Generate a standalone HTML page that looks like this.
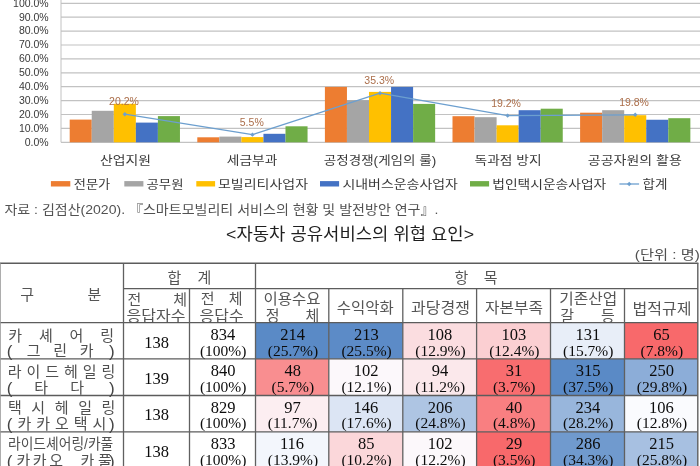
<!DOCTYPE html>
<html lang="ko"><head><meta charset="utf-8"><title>chart and table</title>
<style>
html,body{margin:0;padding:0;background:#fff}
#page{position:relative;width:700px;height:466px;overflow:hidden;background:#fff;font-family:"Liberation Sans",sans-serif}
#inner{position:absolute;left:0;top:0;width:700px;height:480px;filter:blur(0.65px)}
#page svg{position:absolute;left:0;top:0;overflow:visible}
#ktext text{font-family:"Liberation Sans","Noto Sans CJK KR",sans-serif}
#ktext .num{font-family:"Liberation Serif","Noto Serif CJK SC",serif;font-size:16.5px;fill:#0c0c0c}
#ktext .pct{font-family:"Liberation Serif","Noto Serif CJK SC",serif;font-size:15.5px;fill:#0c0c0c}
#ktext .ax{font-size:10.5px;fill:#3a3a3a;text-anchor:end}
#ktext .dl{font-size:10.5px;fill:#AB6E4A}
#ktext .cat{font-size:12.5px;fill:#3a3a3a}
#ktext .lg{font-size:12px;fill:#3a3a3a}
#ktext .th{font-size:15px;fill:#555555}
#ktext .rl{font-size:15px;fill:#505050}
#ktext .par{font-size:17px;fill:#444}
</style></head><body>
<div id="page"><div id="inner">
<svg width="700" height="480" viewBox="0 0 700 480">
<g id="gfx"><line x1="61.0" y1="142.30" x2="700.0" y2="142.30" stroke="#c2c2c2" stroke-width="1.2"/>
<line x1="61.0" y1="128.40" x2="700.0" y2="128.40" stroke="#c2c2c2" stroke-width="1.2"/>
<line x1="61.0" y1="114.50" x2="700.0" y2="114.50" stroke="#c2c2c2" stroke-width="1.2"/>
<line x1="61.0" y1="100.60" x2="700.0" y2="100.60" stroke="#c2c2c2" stroke-width="1.2"/>
<line x1="61.0" y1="86.70" x2="700.0" y2="86.70" stroke="#c2c2c2" stroke-width="1.2"/>
<line x1="61.0" y1="72.80" x2="700.0" y2="72.80" stroke="#c2c2c2" stroke-width="1.2"/>
<line x1="61.0" y1="58.90" x2="700.0" y2="58.90" stroke="#c2c2c2" stroke-width="1.2"/>
<line x1="61.0" y1="45.00" x2="700.0" y2="45.00" stroke="#c2c2c2" stroke-width="1.2"/>
<line x1="61.0" y1="31.10" x2="700.0" y2="31.10" stroke="#c2c2c2" stroke-width="1.2"/>
<line x1="61.0" y1="17.20" x2="700.0" y2="17.20" stroke="#c2c2c2" stroke-width="1.2"/>
<line x1="61.0" y1="3.30" x2="700.0" y2="3.30" stroke="#c2c2c2" stroke-width="1.2"/>
<line x1="61.0" y1="0" x2="61.0" y2="142.30" stroke="#c2c2c2" stroke-width="1"/>
<rect x="69.70" y="119.60" width="22.05" height="22.70" fill="#ED7D31"/>
<rect x="91.75" y="110.80" width="22.05" height="31.50" fill="#A5A5A5"/>
<rect x="113.80" y="103.80" width="22.05" height="38.50" fill="#FFC000"/>
<rect x="135.85" y="122.60" width="22.05" height="19.70" fill="#4472C4"/>
<rect x="157.90" y="116.10" width="22.05" height="26.20" fill="#70AD47"/>
<rect x="197.30" y="137.30" width="22.05" height="5.00" fill="#ED7D31"/>
<rect x="219.35" y="136.60" width="22.05" height="5.70" fill="#A5A5A5"/>
<rect x="241.40" y="137.10" width="22.05" height="5.20" fill="#FFC000"/>
<rect x="263.45" y="133.80" width="22.05" height="8.50" fill="#4472C4"/>
<rect x="285.50" y="126.30" width="22.05" height="16.00" fill="#70AD47"/>
<rect x="324.90" y="86.90" width="22.05" height="55.40" fill="#ED7D31"/>
<rect x="346.95" y="100.20" width="22.05" height="42.10" fill="#A5A5A5"/>
<rect x="369.00" y="91.90" width="22.05" height="50.40" fill="#FFC000"/>
<rect x="391.05" y="86.90" width="22.05" height="55.40" fill="#4472C4"/>
<rect x="413.10" y="103.90" width="22.05" height="38.40" fill="#70AD47"/>
<rect x="452.50" y="116.20" width="22.05" height="26.10" fill="#ED7D31"/>
<rect x="474.55" y="117.20" width="22.05" height="25.10" fill="#A5A5A5"/>
<rect x="496.60" y="125.30" width="22.05" height="17.00" fill="#FFC000"/>
<rect x="518.65" y="110.20" width="22.05" height="32.10" fill="#4472C4"/>
<rect x="540.70" y="108.70" width="22.05" height="33.60" fill="#70AD47"/>
<rect x="580.10" y="112.70" width="22.05" height="29.60" fill="#ED7D31"/>
<rect x="602.15" y="110.20" width="22.05" height="32.10" fill="#A5A5A5"/>
<rect x="624.20" y="115.20" width="22.05" height="27.10" fill="#FFC000"/>
<rect x="646.25" y="119.75" width="22.05" height="22.55" fill="#4472C4"/>
<rect x="668.30" y="118.20" width="22.05" height="24.10" fill="#70AD47"/>
<polyline fill="none" stroke="#6C9FCF" stroke-width="1.3" stroke-linejoin="round" points="124.83,114.22 252.43,134.66 380.02,93.23 507.62,115.61 635.23,114.78"/>
<path d="M124.83 112.02l2.2 2.2l-2.2 2.2l-2.2 -2.2z" fill="#6C9FCF"/>
<path d="M252.43 132.46l2.2 2.2l-2.2 2.2l-2.2 -2.2z" fill="#6C9FCF"/>
<path d="M380.02 91.03l2.2 2.2l-2.2 2.2l-2.2 -2.2z" fill="#6C9FCF"/>
<path d="M507.62 113.41l2.2 2.2l-2.2 2.2l-2.2 -2.2z" fill="#6C9FCF"/>
<path d="M635.23 112.58l2.2 2.2l-2.2 2.2l-2.2 -2.2z" fill="#6C9FCF"/>
<rect x="50.90" y="181.10" width="19.40" height="5.4" fill="#ED7D31"/>
<rect x="124.30" y="181.10" width="19.10" height="5.4" fill="#A5A5A5"/>
<rect x="196.30" y="181.10" width="18.80" height="5.4" fill="#FFC000"/>
<rect x="320.00" y="181.10" width="19.10" height="5.4" fill="#4472C4"/>
<rect x="470.00" y="181.10" width="19.10" height="5.4" fill="#70AD47"/>
<line x1="619.4" y1="184.00" x2="639.1" y2="184.00" stroke="#6C9FCF" stroke-width="1.3"/>
<path d="M629.2 181.80l2.2 2.2l-2.2 2.2l-2.2 -2.2z" fill="#6C9FCF"/>
<rect x="255.50" y="322.70" width="73.30" height="36.20" fill="#5A8AC6"/>
<rect x="328.80" y="322.70" width="74.00" height="36.20" fill="#5C8BC7"/>
<rect x="402.80" y="322.70" width="73.80" height="36.20" fill="#FBDDE0"/>
<rect x="476.60" y="322.70" width="73.90" height="36.20" fill="#FBCFD2"/>
<rect x="550.50" y="322.70" width="74.00" height="36.20" fill="#E8EEF8"/>
<rect x="624.50" y="322.70" width="73.30" height="36.20" fill="#F8696B"/>
<rect x="255.50" y="358.90" width="73.30" height="36.60" fill="#F98E90"/>
<rect x="328.80" y="358.90" width="74.00" height="36.60" fill="#FCF8FB"/>
<rect x="402.80" y="358.90" width="73.80" height="36.60" fill="#FBE8EB"/>
<rect x="476.60" y="358.90" width="73.90" height="36.60" fill="#F86D6F"/>
<rect x="550.50" y="358.90" width="74.00" height="36.60" fill="#5A8AC6"/>
<rect x="624.50" y="358.90" width="73.30" height="36.60" fill="#8CADD8"/>
<rect x="255.50" y="395.50" width="73.30" height="36.35" fill="#FCEEF1"/>
<rect x="328.80" y="395.50" width="74.00" height="36.35" fill="#DCE5F4"/>
<rect x="402.80" y="395.50" width="73.80" height="36.35" fill="#AEC5E3"/>
<rect x="476.60" y="395.50" width="73.90" height="36.35" fill="#F97F81"/>
<rect x="550.50" y="395.50" width="74.00" height="36.35" fill="#98B6DC"/>
<rect x="624.50" y="395.50" width="73.30" height="36.35" fill="#FAFBFE"/>
<rect x="255.50" y="431.85" width="73.30" height="36.55" fill="#F3F6FC"/>
<rect x="328.80" y="431.85" width="74.00" height="36.55" fill="#FBD7DA"/>
<rect x="402.80" y="431.85" width="73.80" height="36.55" fill="#FCF8FB"/>
<rect x="476.60" y="431.85" width="73.90" height="36.55" fill="#F8696B"/>
<rect x="550.50" y="431.85" width="74.00" height="36.55" fill="#709ACE"/>
<rect x="624.50" y="431.85" width="73.30" height="36.55" fill="#A7C0E1"/>
<line x1="-6.00" y1="263.20" x2="698.40" y2="263.20" stroke="#5c5c5c" stroke-width="1.40"/>
<line x1="123.50" y1="288.70" x2="697.80" y2="288.70" stroke="#5c5c5c" stroke-width="1.30"/>
<line x1="-6.00" y1="322.70" x2="697.80" y2="322.70" stroke="#5c5c5c" stroke-width="1.30"/>
<line x1="-6.00" y1="358.90" x2="697.80" y2="358.90" stroke="#5c5c5c" stroke-width="1.30"/>
<line x1="-6.00" y1="395.50" x2="697.80" y2="395.50" stroke="#5c5c5c" stroke-width="1.30"/>
<line x1="-6.00" y1="431.85" x2="697.80" y2="431.85" stroke="#5c5c5c" stroke-width="1.30"/>
<line x1="-6.00" y1="468.40" x2="697.80" y2="468.40" stroke="#5c5c5c" stroke-width="1.30"/>
<line x1="0.3" y1="263.20" x2="0.3" y2="480" stroke="#999" stroke-width="1"/>
<line x1="123.50" y1="263.20" x2="123.50" y2="480.00" stroke="#606060" stroke-width="1.30"/>
<line x1="255.50" y1="263.20" x2="255.50" y2="480.00" stroke="#606060" stroke-width="1.30"/>
<line x1="697.80" y1="263.20" x2="697.80" y2="480.00" stroke="#606060" stroke-width="1.40"/>
<line x1="189.50" y1="288.70" x2="189.50" y2="480.00" stroke="#606060" stroke-width="1.30"/>
<line x1="328.80" y1="288.70" x2="328.80" y2="480.00" stroke="#606060" stroke-width="1.30"/>
<line x1="402.80" y1="288.70" x2="402.80" y2="480.00" stroke="#606060" stroke-width="1.30"/>
<line x1="476.60" y1="288.70" x2="476.60" y2="480.00" stroke="#606060" stroke-width="1.30"/>
<line x1="550.50" y1="288.70" x2="550.50" y2="480.00" stroke="#606060" stroke-width="1.30"/>
<line x1="624.50" y1="288.70" x2="624.50" y2="480.00" stroke="#606060" stroke-width="1.30"/></g>
<g id="ktext">
<text class="ax" x="48.7" y="145.64">0.0%</text>
<text class="ax" x="48.7" y="131.74">10.0%</text>
<text class="ax" x="48.7" y="117.84">20.0%</text>
<text class="ax" x="48.7" y="103.94">30.0%</text>
<text class="ax" x="48.7" y="90.04">40.0%</text>
<text class="ax" x="48.7" y="76.14">50.0%</text>
<text class="ax" x="48.7" y="62.24">60.0%</text>
<text class="ax" x="48.7" y="48.34">70.0%</text>
<text class="ax" x="48.7" y="34.44">80.0%</text>
<text class="ax" x="48.7" y="20.54">90.0%</text>
<text class="ax" x="48.7" y="6.64">100.0%</text>
<text class="dl" x="109.07" y="104.74">20.2%</text>
<text class="dl" x="239.79" y="125.74">5.5%</text>
<text class="dl" x="364.34" y="84.04">35.3%</text>
<text class="dl" x="491.13" y="107.34">19.2%</text>
<text class="dl" x="619.13" y="106.14">19.8%</text>
<text class="cat" x="99.91" y="165.06" textLength="51" lengthAdjust="spacingAndGlyphs">산업지원</text>
<text class="cat" x="226.78" y="165.06" textLength="50.5" lengthAdjust="spacingAndGlyphs">세금부과</text>
<text class="cat" x="323.78" y="165.06" textLength="112.5" lengthAdjust="spacingAndGlyphs">공정경쟁(게임의 룰)</text>
<text class="cat" x="474.59" y="165.06" textLength="67" lengthAdjust="spacingAndGlyphs">독과점 방지</text>
<text class="cat" x="587.88" y="165.06" textLength="94" lengthAdjust="spacingAndGlyphs">공공자원의 활용</text>
<text class="lg" x="73.73" y="188.56" textLength="36.5" lengthAdjust="spacingAndGlyphs">전문가</text>
<text class="lg" x="146.51" y="188.56" textLength="37" lengthAdjust="spacingAndGlyphs">공무원</text>
<text class="lg" x="218.02" y="188.56" textLength="90" lengthAdjust="spacingAndGlyphs">모빌리티사업자</text>
<text class="lg" x="342.42" y="188.56" textLength="115.5" lengthAdjust="spacingAndGlyphs">시내버스운송사업자</text>
<text class="lg" x="492.29" y="188.56" textLength="114" lengthAdjust="spacingAndGlyphs">법인택시운송사업자</text>
<text class="lg" x="642.61" y="188.56" textLength="25" lengthAdjust="spacingAndGlyphs">합계</text>
<text x="4.42" y="213.59" font-size="13" fill="#525252" textLength="434" lengthAdjust="spacingAndGlyphs">자료 : 김점산(2020). 『스마트모빌리티 서비스의 현황 및 발전방안 연구』.</text>
<text x="226.07" y="239.96" font-size="16.5" fill="#1f1f1f" textLength="248" lengthAdjust="spacingAndGlyphs">&lt;자동차 공유서비스의 위협 요인&gt;</text>
<text x="634.84" y="259.49" font-size="13" fill="#505050" textLength="65" lengthAdjust="spacingAndGlyphs">(단위 : 명)</text>
<text class="th" x="20.22" y="300.20">구</text>
<text class="th" x="87.51" y="300.30">분</text>
<text class="th" x="167.52" y="282.80">합</text>
<text class="th" x="197.45" y="282.80">계</text>
<text class="th" x="127.39" y="304.50">전</text>
<text class="th" x="173.27" y="304.50">체</text>
<text class="th" x="126.49" y="321.00" textLength="59" lengthAdjust="spacingAndGlyphs">응답자수</text>
<text class="th" x="200.68" y="304.40">전</text>
<text class="th" x="228.77" y="304.40">체</text>
<text class="th" x="199.59" y="320.90" textLength="44" lengthAdjust="spacingAndGlyphs">응답수</text>
<text class="th" x="263.53" y="304.40" textLength="57" lengthAdjust="spacingAndGlyphs">이용수요</text>
<text class="th" x="265.64" y="321.00">정</text>
<text class="th" x="305.56" y="321.00">체</text>
<text class="th" x="454.61" y="282.90">항</text>
<text class="th" x="483.68" y="282.80">목</text>
<text class="th" x="336.86" y="313.40" textLength="57" lengthAdjust="spacingAndGlyphs">수익악화</text>
<text class="th" x="411.06" y="313.40" textLength="59" lengthAdjust="spacingAndGlyphs">과당경쟁</text>
<text class="th" x="485.06" y="313.40" textLength="58" lengthAdjust="spacingAndGlyphs">자본부족</text>
<text class="th" x="559.30" y="303.90" textLength="58" lengthAdjust="spacingAndGlyphs">기존산업</text>
<text class="th" x="560.26" y="320.90">갈</text>
<text class="th" x="600.98" y="320.90">등</text>
<text class="th" x="632.60" y="313.70" textLength="59" lengthAdjust="spacingAndGlyphs">법적규제</text>
<text class="rl" x="8.30" y="340.80">카</text>
<text class="rl" x="38.94" y="340.80">셰</text>
<text class="rl" x="69.59" y="340.80">어</text>
<text class="rl" x="100.24" y="340.80">링</text>
<text class="par" x="6.65" y="357.39">(</text>
<text class="rl" x="26.74" y="356.30">그</text>
<text class="rl" x="53.28" y="356.30">린</text>
<text class="rl" x="79.82" y="356.30">카</text>
<text class="par" x="108.88" y="357.39">)</text>
<text class="rl" x="7.77" y="377.00" textLength="107.6" lengthAdjust="spacing">라이드헤일링</text>
<text class="par" x="6.65" y="393.69">(</text>
<text class="rl" x="34.13" y="392.60">타</text>
<text class="rl" x="70.34" y="392.60">다</text>
<text class="par" x="108.88" y="393.69">)</text>
<text class="rl" x="7.95" y="413.30" textLength="107.4" lengthAdjust="spacing">택시헤일링</text>
<text class="par" x="6.65" y="429.99">(</text>
<text class="rl" x="17.50" y="428.90" textLength="88.8" lengthAdjust="spacing">카카오택시</text>
<text class="par" x="108.88" y="429.99">)</text>
<text class="rl" x="7.98" y="449.40" textLength="105.3" lengthAdjust="spacingAndGlyphs">라이드셰어링/카풀</text>
<text class="par" x="6.65" y="466.79">(</text>
<text class="rl" x="16.50" y="465.70" textLength="46.5" lengthAdjust="spacing">카카오</text>
<text class="rl" x="80.60" y="465.70" textLength="31.2" lengthAdjust="spacing">카풀</text>
<text class="par" x="108.88" y="466.79">)</text>
<text class="num" x="144.17" y="347.60">138</text>
<text class="num" x="210.58" y="339.90">834</text>
<text class="pct" x="199.96" y="355.50">(100%)</text>
<text class="num" x="280.18" y="339.90">214</text>
<text class="pct" x="267.73" y="355.50">(25.7%)</text>
<text class="num" x="354.02" y="339.90">213</text>
<text class="pct" x="341.38" y="355.50">(25.5%)</text>
<text class="num" x="427.57" y="339.90">108</text>
<text class="pct" x="415.28" y="355.50">(12.9%)</text>
<text class="num" x="501.42" y="339.90">103</text>
<text class="pct" x="489.13" y="355.50">(12.4%)</text>
<text class="num" x="575.54" y="339.90">131</text>
<text class="pct" x="563.08" y="355.50">(15.7%)</text>
<text class="num" x="653.29" y="339.90">65</text>
<text class="pct" x="640.49" y="355.50">(7.8%)</text>
<text class="num" x="144.19" y="383.75">139</text>
<text class="num" x="210.75" y="376.00">840</text>
<text class="pct" x="199.96" y="391.70">(100%)</text>
<text class="num" x="284.47" y="376.00">48</text>
<text class="pct" x="271.49" y="391.70">(5.7%)</text>
<text class="num" x="353.80" y="376.00">102</text>
<text class="pct" x="341.38" y="391.70">(12.1%)</text>
<text class="num" x="431.74" y="376.00">94</text>
<text class="pct" x="415.28" y="391.70">(11.2%)</text>
<text class="num" x="505.82" y="376.00">31</text>
<text class="pct" x="492.89" y="391.70">(3.7%)</text>
<text class="num" x="575.69" y="376.00">315</text>
<text class="pct" x="563.08" y="391.70">(37.5%)</text>
<text class="num" x="649.36" y="376.00">250</text>
<text class="pct" x="636.73" y="391.70">(29.8%)</text>
<text class="num" x="144.17" y="420.35">138</text>
<text class="num" x="210.78" y="412.60">829</text>
<text class="pct" x="199.96" y="428.30">(100%)</text>
<text class="num" x="284.29" y="412.60">97</text>
<text class="pct" x="267.73" y="428.30">(11.7%)</text>
<text class="num" x="353.60" y="412.60">146</text>
<text class="pct" x="341.38" y="428.30">(17.6%)</text>
<text class="num" x="427.84" y="412.60">206</text>
<text class="pct" x="415.28" y="428.30">(24.8%)</text>
<text class="num" x="505.87" y="412.60">40</text>
<text class="pct" x="492.89" y="428.30">(4.8%)</text>
<text class="num" x="575.53" y="412.60">234</text>
<text class="pct" x="563.08" y="428.30">(28.2%)</text>
<text class="num" x="648.95" y="412.60">106</text>
<text class="pct" x="636.73" y="428.30">(12.8%)</text>
<text class="num" x="144.17" y="457.25">138</text>
<text class="num" x="210.76" y="449.30">833</text>
<text class="pct" x="199.96" y="465.40">(100%)</text>
<text class="num" x="279.95" y="449.30">116</text>
<text class="pct" x="267.73" y="465.40">(13.9%)</text>
<text class="num" x="357.98" y="449.30">85</text>
<text class="pct" x="341.38" y="465.40">(10.2%)</text>
<text class="num" x="427.70" y="449.30">102</text>
<text class="pct" x="415.28" y="465.40">(12.2%)</text>
<text class="num" x="505.70" y="449.30">29</text>
<text class="pct" x="492.89" y="465.40">(3.5%)</text>
<text class="num" x="575.64" y="449.30">286</text>
<text class="pct" x="563.08" y="465.40">(34.3%)</text>
<text class="num" x="649.37" y="449.30">215</text>
<text class="pct" x="636.73" y="465.40">(25.8%)</text>
</g>
</svg>
</div></div>
</body></html>
